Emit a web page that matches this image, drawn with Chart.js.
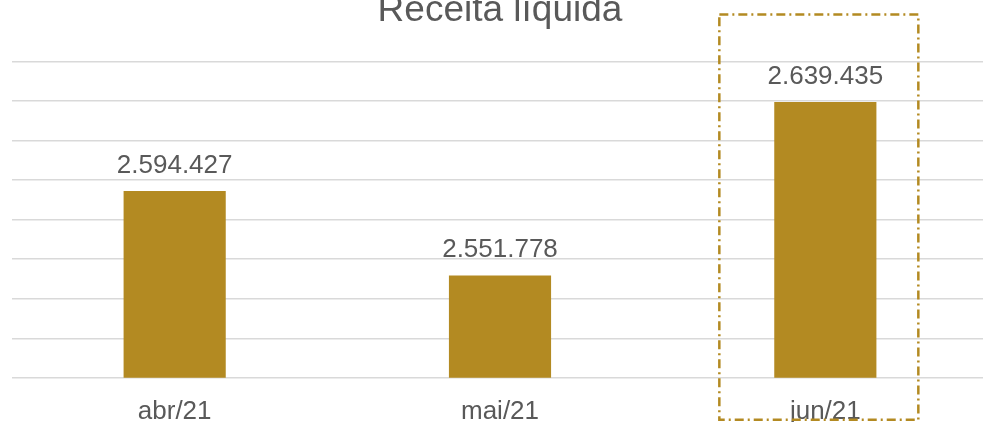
<!DOCTYPE html>
<html>
<head>
<meta charset="utf-8">
<script src="https://cdn.jsdelivr.net/npm/chart.js@4.4.0/dist/chart.umd.min.js"></script>
<style>
  html, body { margin: 0; padding: 0; background: #fff; overflow: hidden; }
  #wrap { position: relative; width: 983px; height: 422px; overflow: hidden; }
  #wrap canvas { position: absolute; left: 0; top: -13px; }
</style>
</head>
<body>
<div id="wrap"><canvas id="receita" width="988" height="458"></canvas></div>
<script>
const categories = ['abr/21', 'mai/21', 'jun/21'];
const receitaValues = [2594427, 2551778, 2639435];
const chartTitle = 'Receita líquida';
const highlightIndex = 2;

const gold = '#b38a22';
const textGray = '#595959';

// pt-BR thousands separator
function fmt(v) {
  return String(v).replace(/\B(?=(\d{3})+(?!\d))/g, '.');
}

const valueLabels = {
  id: 'valueLabels',
  afterDatasetsDraw(chart) {
    const ctx = chart.ctx;
    const meta = chart.getDatasetMeta(0);
    ctx.save();
    ctx.font = '26px "Liberation Sans", Arial, sans-serif';
    ctx.fillStyle = textGray;
    ctx.textAlign = 'center';
    ctx.textBaseline = 'alphabetic';
    meta.data.forEach((bar, i) => {
      ctx.fillText(fmt(receitaValues[i]), bar.x, bar.y - 18);
    });
    ctx.restore();
  }
};

// dash-dot box around the highlighted month
const highlightBox = {
  id: 'highlightBox',
  afterDraw(chart) {
    const ctx = chart.ctx;
    const x = chart.scales.x.getPixelForValue(highlightIndex);
    const area = chart.chartArea;
    const left = x - 106, right = x + 93;
    const top = area.top - 47, bottom = area.bottom + 42;
    ctx.save();
    ctx.strokeStyle = gold;
    ctx.lineWidth = 2.5;
    ctx.setLineDash([9, 4, 2, 4]);
    ctx.strokeRect(left, top, right - left, bottom - top);
    ctx.restore();
  }
};

const receita = document.getElementById('receita').getContext('2d');
const receitaChart = new Chart(receita, {
  type: 'bar',
  data: {
    labels: categories,
    datasets: [{
      label: chartTitle,
      data: receitaValues,
      backgroundColor: gold,
      borderWidth: 0,
      barPercentage: 0.314,
      categoryPercentage: 1
    }]
  },
  options: {
    responsive: false,
    animation: false,
    layout: { padding: { left: 12, right: 0, top: 0, bottom: 0 } },
    scales: {
      x: {
        grid: { display: false, drawTicks: false },
        border: { display: false },
        ticks: {
          color: textGray,
          padding: 18,
          font: { family: '"Liberation Sans", Arial, sans-serif', size: 26 }
        }
      },
      y: {
        min: 2500000,
        max: 2660000,
        grid: { color: '#d9d9d9', lineWidth: 1.5, drawTicks: false },
        border: { display: false },
        ticks: { display: false, stepSize: 20000 }
      }
    },
    plugins: {
      legend: { display: false },
      tooltip: { enabled: false },
      title: {
        display: true,
        text: chartTitle,
        color: textGray,
        font: { family: '"Liberation Sans", Arial, sans-serif', size: 37, weight: 'normal' },
        padding: { top: 2, bottom: 28 }
      }
    }
  },
  plugins: [valueLabels, highlightBox]
});
</script>
</body>
</html>
